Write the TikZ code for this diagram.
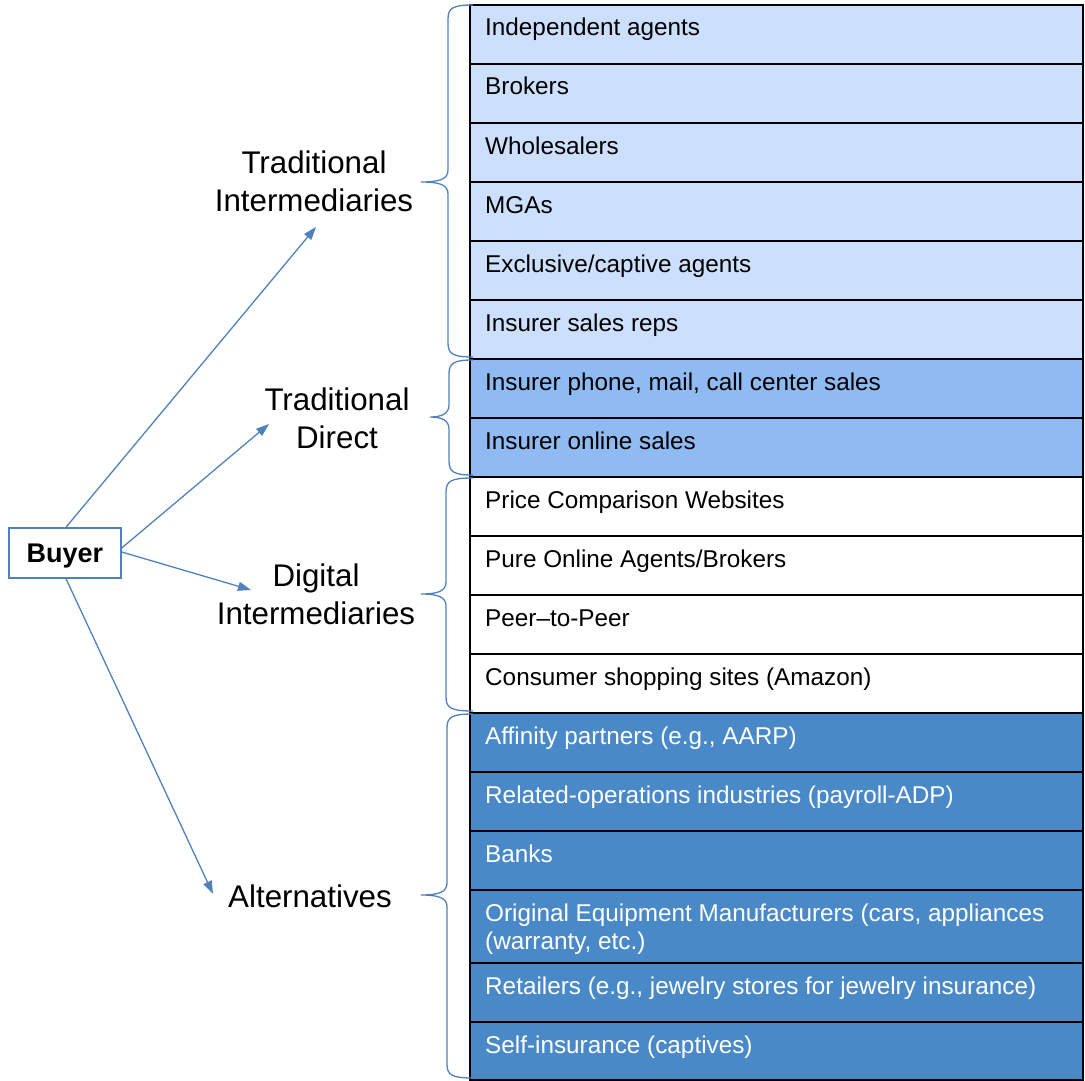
\documentclass[tikz,border=0pt]{standalone}
\usepackage{fontspec}
\setmainfont{Liberation Sans}
\usetikzlibrary{arrows.meta}
\definecolor{lightrow}{HTML}{CCDFFC}
\definecolor{midrow}{HTML}{8FBAF2}
\definecolor{darkrow}{HTML}{4A89C8}
\definecolor{linkblue}{HTML}{4F81BD}
\tikzset{
  rowbox/.style={draw=black, line width=1.5pt, minimum width=613pt, anchor=north west, inner sep=0pt, outer sep=0pt},
  rowtext/.style={anchor=base west, inner sep=0pt, align=left, font=\fontsize{24.3}{28}\selectfont},
  darktext/.style={rowtext, text=white},
  grouplabel/.style={align=center, inner sep=0pt, font=\fontsize{31.3}{38}\selectfont},
  bracepath/.style={draw=linkblue, line width=1.3pt},
  linkarrow/.style={draw=linkblue, line width=1.3pt, -{Triangle[length=13pt,width=9pt]}},
  buyerbox/.style={draw=linkblue, line width=1.5pt, fill=white, minimum width=112pt, minimum height=50pt, inner sep=0pt, text height=19.3pt, text depth=0pt, font=\fontsize{27}{30}\selectfont\bfseries}
}
\newcommand\ofbrace[5]{% spine x, top, bottom, mid, tip x
  \path[bracepath] (473,#2) .. controls (#1+5,#2) and (#1,#2+3) .. (#1,#2+14)
    -- (#1,#4-12) .. controls (#1,#4-3) and (#1-8,#4) .. (#5,#4)
    .. controls (#1-8,#4) and (#1,#4+3) .. (#1,#4+12)
    -- (#1,#3-14) .. controls (#1,#3-3) and (#1+5,#3) .. (473,#3);
}
\begin{document}
\begin{tikzpicture}[x=1pt,y=-1pt]
\useasboundingbox (0,0) rectangle (1085,1081);
% rows
\node[rowbox, fill=lightrow, minimum height=59pt] (r1) at (470,5) {};
\node[rowbox, fill=lightrow, minimum height=59pt] (r2) at (470,64) {};
\node[rowbox, fill=lightrow, minimum height=59pt] (r3) at (470,123) {};
\node[rowbox, fill=lightrow, minimum height=59pt] (r4) at (470,182) {};
\node[rowbox, fill=lightrow, minimum height=59pt] (r5) at (470,241) {};
\node[rowbox, fill=lightrow, minimum height=59pt] (r6) at (470,300) {};
\node[rowbox, fill=midrow, minimum height=59pt] (r7) at (470,359) {};
\node[rowbox, fill=midrow, minimum height=59pt] (r8) at (470,418) {};
\node[rowbox, fill=white, minimum height=59pt] (r9) at (470,477) {};
\node[rowbox, fill=white, minimum height=59pt] (r10) at (470,536) {};
\node[rowbox, fill=white, minimum height=59pt] (r11) at (470,595) {};
\node[rowbox, fill=white, minimum height=59pt] (r12) at (470,654) {};
\node[rowbox, fill=darkrow, minimum height=59pt] (r13) at (470,713) {};
\node[rowbox, fill=darkrow, minimum height=59pt] (r14) at (470,772) {};
\node[rowbox, fill=darkrow, minimum height=59pt] (r15) at (470,831) {};
\node[rowbox, fill=darkrow, minimum height=73pt] (r16) at (470,890) {};
\node[rowbox, fill=darkrow, minimum height=59pt] (r17) at (470,963) {};
\node[rowbox, fill=darkrow, minimum height=58pt] (r18) at (470,1022) {};
% row texts
\node[rowtext] (t1) at ([xshift=15pt,yshift=-31pt]r1.north west) {Independent agents};
\node[rowtext] (t2) at ([xshift=15pt,yshift=-31pt]r2.north west) {Brokers};
\node[rowtext] (t3) at ([xshift=15pt,yshift=-31pt]r3.north west) {Wholesalers};
\node[rowtext] (t4) at ([xshift=15pt,yshift=-31pt]r4.north west) {MGAs};
\node[rowtext] (t5) at ([xshift=15pt,yshift=-31pt]r5.north west) {Exclusive/captive agents};
\node[rowtext] (t6) at ([xshift=15pt,yshift=-31pt]r6.north west) {Insurer sales reps};
\node[rowtext] (t7) at ([xshift=15pt,yshift=-31pt]r7.north west) {Insurer phone, mail, call center sales};
\node[rowtext] (t8) at ([xshift=15pt,yshift=-31pt]r8.north west) {Insurer online sales};
\node[rowtext] (t9) at ([xshift=15pt,yshift=-31pt]r9.north west) {Price Comparison Websites};
\node[rowtext] (t10) at ([xshift=15pt,yshift=-31pt]r10.north west) {Pure Online Agents/Brokers};
\node[rowtext] (t11) at ([xshift=15pt,yshift=-31pt]r11.north west) {Peer–to-Peer};
\node[rowtext] (t12) at ([xshift=15pt,yshift=-31pt]r12.north west) {Consumer shopping sites (Amazon)};
\node[darktext] (t13) at ([xshift=15pt,yshift=-31pt]r13.north west) {Affinity partners (e.g., AARP)};
\node[darktext] (t14) at ([xshift=15pt,yshift=-31pt]r14.north west) {Related-operations industries (payroll-ADP)};
\node[darktext] (t15) at ([xshift=15pt,yshift=-31pt]r15.north west) {Banks};
\node[darktext] (t16a) at ([xshift=15pt,yshift=-31pt]r16.north west) {Original Equipment Manufacturers (cars, appliances};
\node[darktext] (t16b) at ([xshift=15pt,yshift=-59pt]r16.north west) {(warranty, etc.)};
\node[darktext] (t17) at ([xshift=15pt,yshift=-31pt]r17.north west) {Retailers (e.g., jewelry stores for jewelry insurance)};
\node[darktext] (t18) at ([xshift=15pt,yshift=-31pt]r18.north west) {Self-insurance (captives)};
% braces
\ofbrace{448}{5}{357}{182}{421}
\ofbrace{449}{360}{475}{417}{430}
\ofbrace{446}{478}{711}{594}{421}
\ofbrace{447}{714}{1078}{895}{421}
% group labels
\node[grouplabel] (g1) at (314,181) {Traditional\\Intermediaries};
\node[grouplabel] (g2) at (337,418) {Traditional\\Direct};
\node[grouplabel] (g3) at (316,594) {Digital\\Intermediaries};
\node[grouplabel] (g4) at (310,896) {Alternatives};
% buyer
\node[buyerbox] (buyer) at (65,553) {Buyer};
% arrow end points
\coordinate (e1) at (316,227);
\coordinate (e2) at (269,424);
\coordinate (e3) at (251,590);
\coordinate (e4) at (213,894);
\draw[linkarrow] ([xshift=1pt]buyer.north) -- (e1);
\draw[linkarrow] ([yshift=5pt]buyer.east) -- (e2);
\draw[linkarrow] ([yshift=1pt]buyer.east) -- (e3);
\draw[linkarrow] ([xshift=1pt]buyer.south) -- (e4);
\end{tikzpicture}
\end{document}
